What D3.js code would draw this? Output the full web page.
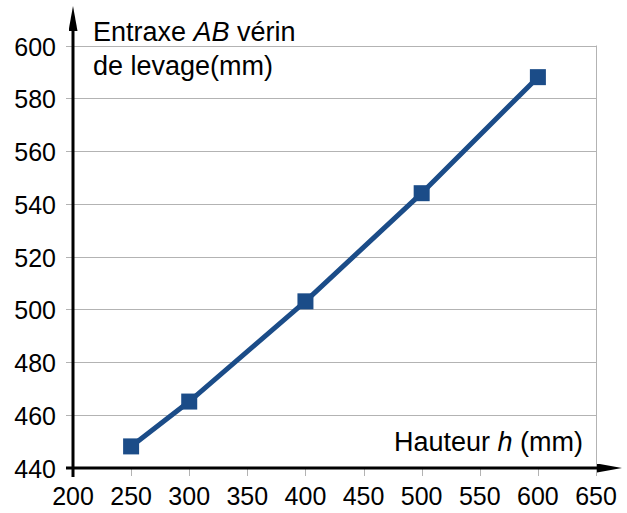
<html>
<head>
<meta charset="UTF-8">
<script src="https://d3js.org/d3.v7.min.js"></script>
<style>
  body { margin: 0; background: #fff; }
  text { font-family: "Liberation Sans", Arial, sans-serif; font-size: 25px; fill: #000; }
  .title { font-size: 27px; }
</style>
</head>
<body>
<div class="chart"></div>
<script>
var hauteur = [250, 300, 400, 500, 600];
var entraxe = [448, 465, 503, 544, 588];
var xTicks = [200, 250, 300, 350, 400, 450, 500, 550, 600, 650];
var yTicks = [440, 460, 480, 500, 520, 540, 560, 580, 600];

var width = 627, height = 513;

var x = d3.scaleLinear().domain([200, 650]).range([73, 596]);
var y = d3.scaleLinear().domain([440, 600]).range([467.5, 45.5]);

var svg = d3.select(".chart").append("svg")
    .attr("width", width)
    .attr("height", height);

// horizontal grid lines (with small tick to the left of the axis)
svg.append("g").selectAll("line")
    .data(yTicks.slice(1))
  .enter().append("line")
    .attr("x1", 66).attr("x2", x(650))
    .attr("y1", function(d) { return Math.round(y(d)) + 0.5; })
    .attr("y2", function(d) { return Math.round(y(d)) + 0.5; })
    .style("stroke", "#b3b3b3").style("stroke-width", 1);

// right border
svg.append("line")
    .attr("x1", Math.round(x(650)) + 0.5).attr("x2", Math.round(x(650)) + 0.5)
    .attr("y1", y(600)).attr("y2", y(440))
    .style("stroke", "#b3b3b3");

// x ticks below the axis
svg.append("g").selectAll("line")
    .data(xTicks.slice(1))
  .enter().append("line")
    .attr("x1", function(d) { return Math.round(x(d)) + 0.5; })
    .attr("x2", function(d) { return Math.round(x(d)) + 0.5; })
    .attr("y1", 467).attr("y2", 476)
    .style("stroke", "#b3b3b3");

// tick labels
svg.append("g").selectAll("text")
    .data(xTicks)
  .enter().append("text")
    .attr("x", function(d) { return x(d); })
    .attr("y", 505)
    .style("text-anchor", "middle")
    .text(function(d) { return d; });

svg.append("g").selectAll("text")
    .data(yTicks)
  .enter().append("text")
    .attr("x", 56)
    .attr("y", function(d) { return y(d) + 10; })
    .style("text-anchor", "end")
    .text(function(d) { return d; });

// axes with arrows
svg.append("defs").append("marker")
    .attr("id", "arrow")
    .attr("viewBox", "0 0 25 9")
    .attr("refX", 0).attr("refY", 4.5)
    .attr("markerWidth", 25).attr("markerHeight", 9)
    .attr("markerUnits", "userSpaceOnUse")
    .attr("orient", "auto")
  .append("path")
    .attr("d", "M0,0 L25,4.5 L0,9 Z")
    .style("fill", "#000");

svg.append("line")
    .attr("x1", 66).attr("x2", 597)
    .attr("y1", 468).attr("y2", 468)
    .style("stroke", "#000").style("stroke-width", 3)
    .attr("marker-end", "url(#arrow)");

svg.append("line")
    .attr("x1", 73).attr("x2", 73)
    .attr("y1", 477).attr("y2", 31)
    .style("stroke", "#000").style("stroke-width", 3)
    .attr("marker-end", "url(#arrow)");

// data line
var line = d3.line()
    .x(function(d, i) { return x(hauteur[i]); })
    .y(function(d) { return y(d); });

svg.append("path")
    .datum(entraxe)
    .attr("d", line)
    .style("fill", "none")
    .style("stroke", "#1b4c88")
    .style("stroke-width", 5);

svg.append("g").selectAll("rect")
    .data(entraxe)
  .enter().append("rect")
    .attr("x", function(d, i) { return x(hauteur[i]) - 8; })
    .attr("y", function(d) { return y(d) - 8; })
    .attr("width", 16).attr("height", 16)
    .style("fill", "#1b4c88");

// axis titles
var yt = svg.append("text").attr("class", "title").attr("x", 93).attr("y", 41);
yt.append("tspan").text("Entraxe ");
yt.append("tspan").style("font-style", "italic").text("AB");
yt.append("tspan").text(" vérin");
svg.append("text").attr("class", "title").attr("x", 93).attr("y", 75).text("de levage(mm)");

var xt = svg.append("text").attr("class", "title").attr("x", 583).attr("y", 451).style("text-anchor", "end");
xt.append("tspan").text("Hauteur ");
xt.append("tspan").style("font-style", "italic").text("h");
xt.append("tspan").text(" (mm)");
</script>
</body>
</html>
